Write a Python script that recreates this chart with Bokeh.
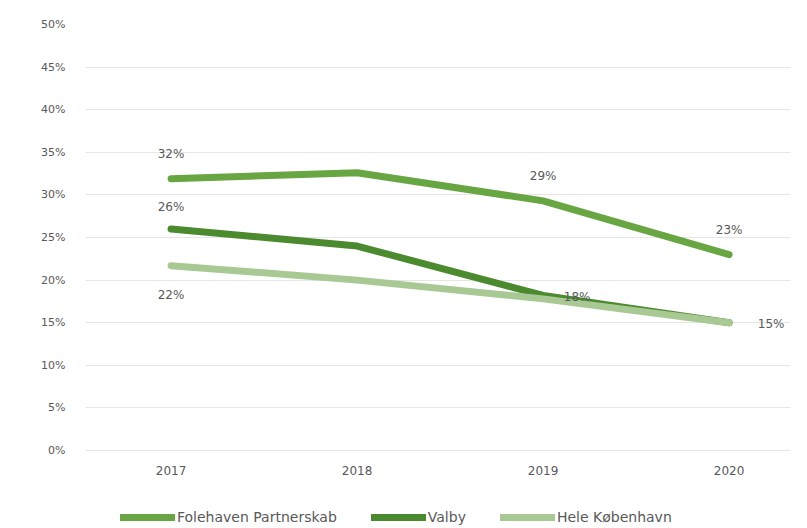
from bokeh.plotting import figure
from bokeh.models import Legend, LegendItem, FixedTicker, ColumnDataSource, LabelSet
from bokeh.core.properties import value
from bokeh.embed import file_html
from bokeh.resources import INLINE

years = [2017, 2018, 2019, 2020]
year_labels = ["2017", "2018", "2019", "2020"]
folehaven = [31.9, 32.6, 29.3, 23.0]
valby = [26.0, 24.0, 18.2, 15.0]
hele_kbh = [21.7, 20.0, 17.8, 15.0]

label_x = [2017, 2017, 2017, 2019, 2020, 2019, 2020]
label_y = [31.9, 26.0, 21.7, 29.3, 23.0, 18.2, 15.0]
label_text = ["32%", "26%", "22%", "29%", "23%", "18%", "15%"]
label_dx = [0, 0, 0, 0, 0, 34, 42]
label_dy = [25, 22, -29, 25, 25, -2, -1]

FONT = "DejaVu Sans"
TXT = "#595959"

p = figure(frame_width=705, frame_height=504,
           output_backend="svg", toolbar_location=None,
           x_range=(2016.54, 2020.33), y_range=(-9.15, 50),
           min_border_left=85, min_border_top=24, min_border_right=10, min_border_bottom=0)
p.outline_line_color = None

c1, c2, c3 = "#67a642", "#4b8a2f", "#a9c994"
r1 = p.line(years, folehaven, line_color=c1, line_width=7, line_join="round", line_cap="round")
r2 = p.line(years, valby, line_color=c2, line_width=7, line_join="round", line_cap="round")
r3 = p.line(years, hele_kbh, line_color=c3, line_width=7, line_join="round", line_cap="round")

src = ColumnDataSource(dict(x=label_x, y=label_y, t=label_text, dx=label_dx, dy=label_dy))
p.add_layout(LabelSet(x="x", y="y", text="t", source=src, x_offset="dx", y_offset="dy",
                      text_align="center", text_baseline="middle", text_font=value(FONT),
                      text_font_size="12px", text_color=TXT))

ysrc = ColumnDataSource(dict(x=years, y=[0] * len(years), t=year_labels))
p.add_layout(LabelSet(x="x", y="y", text="t", source=ysrc, y_offset=-20,
                      text_align="center", text_baseline="middle", text_font=value(FONT),
                      text_font_size="12px", text_color=TXT))

p.yaxis.ticker = FixedTicker(ticks=list(range(0, 51, 5)))
p.yaxis.major_label_overrides = {v: f"{v}%" for v in range(0, 51, 5)}
p.yaxis.axis_line_color = None
p.yaxis.major_tick_line_color = None
p.yaxis.minor_tick_line_color = None
p.yaxis.major_tick_out = 0
p.yaxis.major_tick_in = 0
p.yaxis.minor_tick_out = 0
p.yaxis.major_label_text_font = FONT
p.yaxis.major_label_text_font_size = "11px"
p.yaxis.major_label_text_color = TXT
p.yaxis.major_label_standoff = 20
p.xaxis.visible = False

p.xgrid.grid_line_color = None
p.ygrid.grid_line_color = "#e6e6e6"
p.ygrid.grid_line_width = 1

legend = Legend(items=[LegendItem(label="Folehaven Partnerskab", renderers=[r1]),
                       LegendItem(label="Valby", renderers=[r2]),
                       LegendItem(label="Hele København", renderers=[r3])],
                orientation="horizontal", location=(35, 3),
                glyph_width=55, glyph_height=12, spacing=34,
                label_text_font=FONT, label_text_font_size="14px",
                label_text_color=TXT, label_standoff=2, label_height=14,
                border_line_color=None, background_fill_alpha=0,
                margin=0, padding=0)
p.add_layout(legend, "center")

open("out.html", "w").write(file_html(p, INLINE))
